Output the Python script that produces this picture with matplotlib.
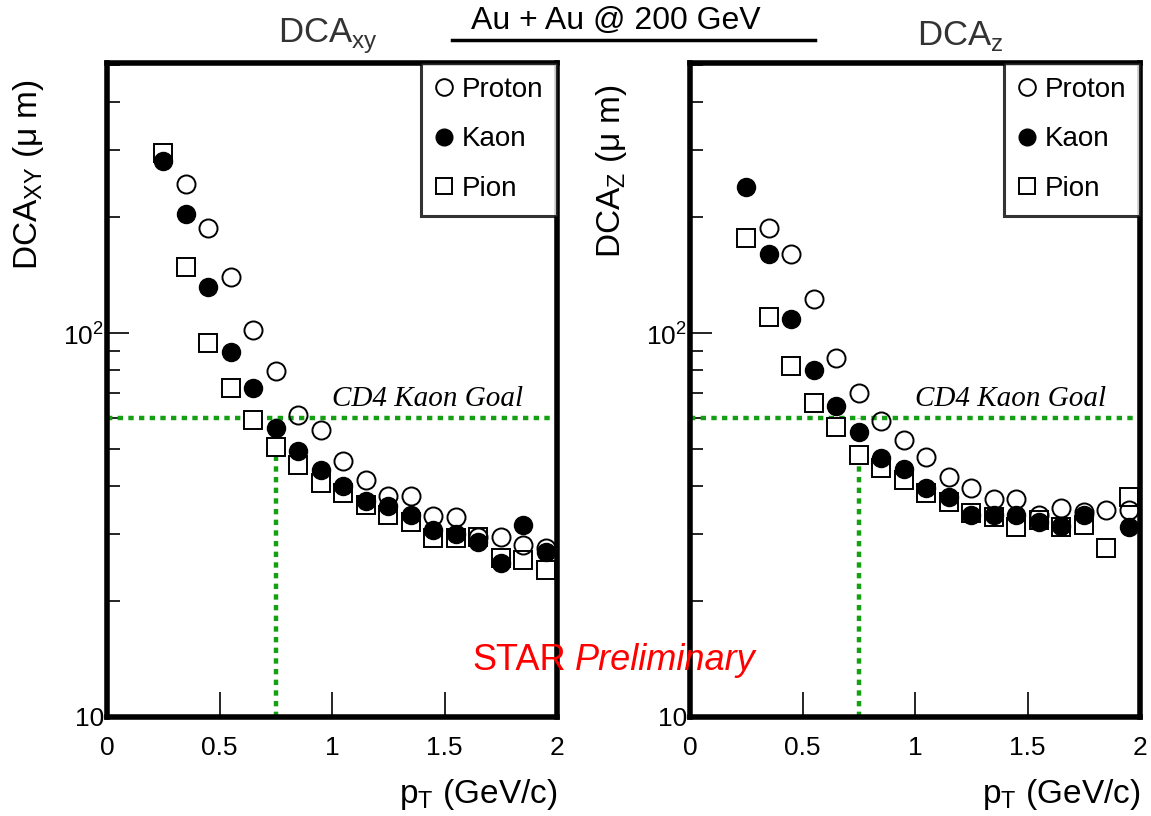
import numpy as np
import matplotlib
matplotlib.use("Agg")
import matplotlib.pyplot as plt
from matplotlib.ticker import LogLocator, NullFormatter, FixedLocator
from matplotlib.lines import Line2D

plt.rcParams['font.family'] = ['Liberation Sans', 'DejaVu Sans']

pt = np.round(np.arange(0.25, 2.0, 0.1), 2)

# DCA_xy (um)
xy_proton = [np.nan, 244, 188, 140, 102, 79.6, 61, 56, 46.4, 41.4, 37.6, 37.6, 33.4, 33.2, 29.4, 29.4, 28, 27.5]
xy_kaon = [281, 204, 132, 89, 72, 56.6, 49.3, 44, 40, 36.5, 35.4, 33.6, 30.7, 30, 28.6, 25.2, 31.6, 26.9]
xy_pion = [294, 149, 94, 72, 59.3, 50.5, 45.3, 40.7, 38.3, 35.6, 33.6, 32.2, 29.2, 29.2, 29.4, 25.9, 25.6, 24.1]

# DCA_z (um)
z_proton = [np.nan, 188, 161, 123, 86, 69.8, 59, 52.6, 47.5, 42.2, 39.4, 37, 37, 33.6, 35, 34.2, 34.6, 34.6]
z_kaon = [240, 161, 109, 80, 64.5, 55.2, 47.2, 44.2, 39.5, 37.4, 33.6, 33.6, 33.6, 32.2, 31.4, 33.6, np.nan, 31.2]
z_pion = [177, 110, 82, 65.8, 57, 48.1, 44.5, 41.4, 38.3, 36.3, 34, 33.2, 31.2, 32.6, 31.2, 31.6, 27.5, 37.4]

goal = 60
goal_pt = 0.75

fig = plt.figure(figsize=(11.51, 8.16), dpi=100)
ax1 = fig.add_axes([107/1151, 1-717/816, 450/1151, 654/816])
ax2 = fig.add_axes([690/1151, 1-717/816, 450/1151, 654/816])

panels = [(ax1, xy_proton, xy_kaon, xy_pion, r'DCA$_{\mathregular{XY}}$ ($\mathregular{\mu}$ m)'),
          (ax2, z_proton, z_kaon, z_pion, r'DCA$_{\mathregular{Z}}$ ($\mathregular{\mu}$ m)')]

for ax, prot, kaon, pion, ylab in panels:
    ax.plot(pt, pion, ls='none', marker='s', ms=13, mfc='white', mec='black', mew=1.4, zorder=3)
    ax.plot(pt, kaon, ls='none', marker='o', ms=13, mfc='black', mec='black', zorder=4)
    ax.plot(pt, prot, ls='none', marker='o', ms=13, mfc='none', mec='black', mew=1.4, zorder=5)
    ax.plot([0, 2], [goal, goal], ls=(0, (1.2, 1.2)), color='#13a013', lw=3.2, zorder=2)
    ax.plot([goal_pt, goal_pt], [10, goal], ls=(0, (1.2, 1.2)), color='#13a013', lw=3.2, zorder=2)
    ax.text(1.85, goal * 1.035, 'CD4 Kaon Goal', fontsize=21, style='italic',
            family='Liberation Serif', ha='right', va='bottom')
    ax.set_yscale('log')
    ax.set_xlim(0, 2)
    ax.set_ylim(10, 505)
    ax.yaxis.set_major_locator(FixedLocator([10, 100]))
    ax.set_yticklabels(['10', r'10$^{\mathregular{2}}$'])
    ax.yaxis.set_minor_locator(LogLocator(base=10, subs=np.arange(2, 10)))
    ax.yaxis.set_minor_formatter(NullFormatter())
    ax.set_xticks([0, 0.5, 1, 1.5, 2])
    ax.set_xticklabels(['0', '0.5', '1', '1.5', '2'])
    ax.tick_params(axis='both', which='both', direction='in', labelsize=19)
    ax.tick_params(axis='x', which='major', length=18, width=1.2, pad=14)
    ax.tick_params(axis='y', which='major', length=16, width=1.2, pad=2)
    ax.tick_params(axis='y', which='minor', length=9, width=1.2)
    for s in ax.spines.values():
        s.set_linewidth(4)
    ax.set_ylabel(ylab, fontsize=24, labelpad=6)
    ax.set_xlabel(r'p$_{\mathregular{T}}$ (GeV/c)', fontsize=24, loc='right', labelpad=12)

    handles = [Line2D([], [], ls='none', marker='o', ms=12, mfc='none', mec='black', mew=1.4),
               Line2D([], [], ls='none', marker='o', ms=12, mfc='black', mec='black'),
               Line2D([], [], ls='none', marker='s', ms=12, mfc='white', mec='black', mew=1.4)]
    leg = ax.legend(handles, ['Proton', 'Kaon', 'Pion'], loc='upper right', fontsize=20,
                    frameon=True, fancybox=False, borderaxespad=0, handlelength=0.6,
                    handletextpad=0.35, labelspacing=0.85, borderpad=0.5,
                    bbox_to_anchor=(1.0, 1.0))
    leg.get_frame().set_edgecolor('black')
    leg.get_frame().set_linewidth(2.2)

ax1.yaxis.set_label_coords(-0.135, 0.83)
ax2.yaxis.set_label_coords(-0.135, 0.835)

fig.text(328/1151, 1-36/816, r'DCA$_{\mathregular{xy}}$', fontsize=25, color='#333333', ha='center', va='center')
fig.text(960/1151, 1-36/816, r'DCA$_{\mathregular{z}}$', fontsize=25, color='#333333', ha='center', va='center')
fig.text(616/1151, 1-21/816, 'Au + Au @ 200 GeV', fontsize=23, color='black', ha='center', va='center')
fig.add_artist(Line2D([452/1151, 815/1151], [1-40/816, 1-40/816], color='black', lw=2.5))

fig.text(472/1151, 1-660/816, 'STAR', fontsize=26, color='red', ha='left', va='center')
fig.text(575/1151, 1-660/816, 'Preliminary', fontsize=26, color='red', style='italic', ha='left', va='center')

fig.savefig('out.png', dpi=100)
